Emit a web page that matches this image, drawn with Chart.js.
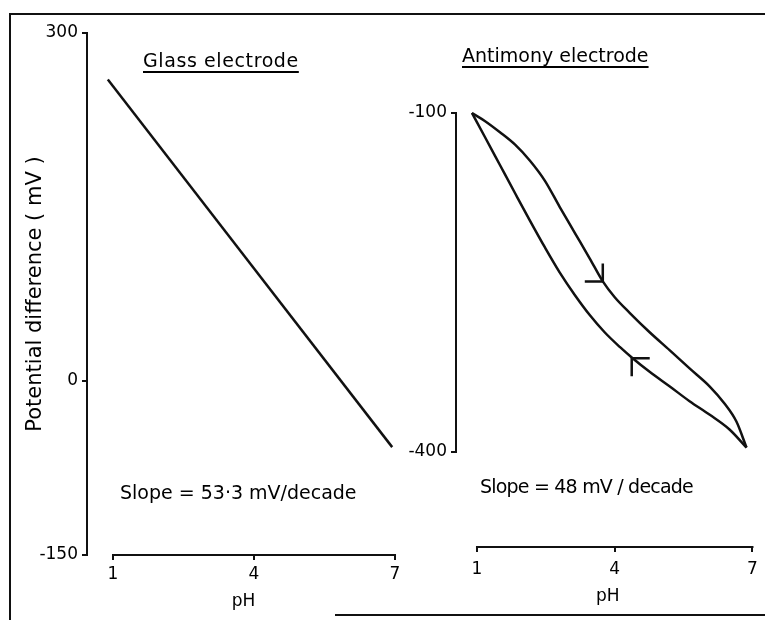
<!DOCTYPE html>
<html>
<head>
<meta charset="utf-8">
<title>Glass and antimony electrode response</title>
<script src="https://cdn.jsdelivr.net/npm/chart.js@4.4.1/dist/chart.umd.min.js"></script>
<style>
  html, body { margin: 0; padding: 0; background: #fff; }
  #page { position: relative; width: 765px; height: 620px; overflow: hidden; font-family: "DejaVu Sans", sans-serif; color: #000; }
  canvas { position: absolute; top: 0; }
  #glassChart { left: 0; }
  #antimonyChart { left: 395px; }
  .rule { position: absolute; background: #111; }
  .label { position: absolute; white-space: nowrap; font-size: 19px; line-height: 22px; }
  .heading { text-decoration: underline; text-decoration-thickness: 1.5px; text-underline-offset: 4px; }
</style>
</head>
<body>
<div id="page">
  <div class="rule" style="left:9px; top:13px; width:2px; height:607px;"></div>
  <div class="rule" style="left:9px; top:13px; width:756px; height:2px;"></div>
  <div class="rule" style="left:335px; top:614px; width:430px; height:2px;"></div>

  <canvas id="glassChart" width="405" height="620"></canvas>
  <canvas id="antimonyChart" width="370" height="620"></canvas>

  <div class="label heading" style="left:143px; top:49px; letter-spacing:0.6px;">Glass electrode</div>
  <div class="label heading" style="left:462px; top:44px;">Antimony electrode</div>
  <div class="label" style="left:120px; top:481px;">Slope = 53·3 mV/decade</div>
  <div class="label" style="left:480px; top:475px; letter-spacing:-0.8px;">Slope = 48 mV / decade</div>
</div>

<script>
/* ----------------------------------------------------------
   Data
   ---------------------------------------------------------- */
const phTicks = [1, 4, 7];
const glassTicks = [-150, 0, 300];
const antimonyTicks = [-400, -100];

// glass electrode: straight line
const glassPH = [0.89, 6.94];
const glassMV = [260, -57];

// antimony electrode: rising pH branch (upper curve)
const upPH = [0.89, 1.17, 1.50, 1.83, 2.15, 2.48, 2.80, 3.13, 3.46, 3.74, 4.00, 4.33, 4.76, 5.20, 5.63, 6.07, 6.39, 6.65, 6.87];
const upMV = [-100, -107, -117, -128, -142, -160, -183, -206, -229, -249, -263, -277, -294, -310, -326, -342, -357, -373, -396];

// antimony electrode: falling pH branch (lower curve)
const downPH = [0.89, 1.17, 1.50, 1.83, 2.15, 2.48, 2.80, 3.13, 3.46, 3.78, 4.11, 4.39, 4.76, 5.20, 5.63, 6.07, 6.50, 6.87];
const downMV = [-100, -121, -146, -171, -195, -219, -241, -261, -279, -294, -307, -317, -329, -342, -355, -367, -380, -396];

// direction marks on the loop
const arrowPH = [3.74, 4.37];
const arrowMV = [-249, -317];
const arrowDir = ['forward', 'back'];

const pts = (xs, ys) => xs.map((x, i) => ({ x, y: ys[i] }));

/* ----------------------------------------------------------
   Plugins
   ---------------------------------------------------------- */
// axis lines only between first and last tick
const rangeAxes = {
  id: 'rangeAxes',
  afterDraw(chart) {
    const { ctx } = chart;
    const x = chart.scales.x, y = chart.scales.y;
    ctx.save();
    ctx.strokeStyle = '#111';
    ctx.lineWidth = 2;
    ctx.lineCap = 'square';
    const xt = x.ticks.map(t => t.value);
    const yt = y.ticks.map(t => t.value);
    ctx.beginPath();
    ctx.moveTo(x.getPixelForValue(Math.min(...xt)), x.top);
    ctx.lineTo(x.getPixelForValue(Math.max(...xt)), x.top);
    ctx.moveTo(y.right, y.getPixelForValue(Math.max(...yt)));
    ctx.lineTo(y.right, y.getPixelForValue(Math.min(...yt)));
    ctx.stroke();
    ctx.restore();
  }
};

const loopArrows = {
  id: 'loopArrows',
  afterDatasetsDraw(chart) {
    const { ctx } = chart;
    const x = chart.scales.x, y = chart.scales.y;
    const arm = 18;
    ctx.save();
    ctx.strokeStyle = '#111';
    ctx.lineWidth = 2.5;
    arrowPH.forEach((ph, i) => {
      const px = x.getPixelForValue(ph), py = y.getPixelForValue(arrowMV[i]);
      const s = arrowDir[i] === 'forward' ? -1 : 1;
      ctx.beginPath();
      ctx.moveTo(px, py + s * arm);
      ctx.lineTo(px, py);
      ctx.lineTo(px + s * arm, py);
      ctx.stroke();
    });
    ctx.restore();
  }
};

/* ----------------------------------------------------------
   Shared options
   ---------------------------------------------------------- */
const FONT = { family: '"DejaVu Sans", sans-serif', size: 17 };
const TITLE_FONT = { family: '"DejaVu Sans", sans-serif', size: 21 };

function axisX(min, max, height, labelPad, titlePad) {
  return {
    type: 'linear', min, max,
    afterBuildTicks: s => { s.ticks = phTicks.map(v => ({ value: v })); },
    afterFit: s => { s.height = height; },
    border: { display: false },
    grid: { drawOnChartArea: false, drawTicks: true, tickLength: 5, color: '#111', lineWidth: 2 },
    ticks: { color: '#000', font: FONT, padding: labelPad, maxRotation: 0, autoSkip: false },
    title: { display: true, text: 'pH', color: '#000', font: FONT, padding: { top: 0, bottom: titlePad } },
  };
}

function axisY(min, max, ticks, width, title) {
  return {
    type: 'linear', min, max,
    afterBuildTicks: s => { s.ticks = ticks.map(v => ({ value: v })); },
    afterFit: s => { s.width = width; },
    border: { display: false },
    grid: { drawOnChartArea: false, drawTicks: true, tickLength: 5, color: '#111', lineWidth: 2 },
    ticks: { color: '#000', font: FONT, padding: 4 },
    title: title
      ? { display: true, text: title, color: '#000', font: TITLE_FONT, padding: { top: 23, bottom: 0 } }
      : { display: false },
  };
}

const lineStyle = {
  borderColor: '#111', borderWidth: 2.5, pointRadius: 0,
  fill: false, cubicInterpolationMode: 'monotone', clip: false,
};

const baseOptions = {
  responsive: false,
  devicePixelRatio: 1,
  animation: false,
  events: [],
  plugins: { legend: { display: false }, tooltip: { enabled: false } },
};

/* ----------------------------------------------------------
   Glass electrode
   ---------------------------------------------------------- */
new Chart(document.getElementById('glassChart'), {
  type: 'line',
  data: {
    datasets: [{ label: 'Glass electrode', data: pts(glassPH, glassMV), ...lineStyle }],
  },
  options: {
    ...baseOptions,
    layout: { padding: { top: 33, right: 5, left: 0, bottom: 0 } },
    scales: {
      x: axisX(0.447, 7.106, 65, 4, 8),
      y: axisY(-150, 300, glassTicks, 87, 'Potential difference ( mV )'),
    },
  },
  plugins: [rangeAxes],
});

/* ----------------------------------------------------------
   Antimony electrode
   ---------------------------------------------------------- */
new Chart(document.getElementById('antimonyChart'), {
  type: 'line',
  data: {
    datasets: [
      { label: 'Increasing pH', data: pts(upPH, upMV), ...lineStyle },
      { label: 'Decreasing pH', data: pts(downPH, downMV), ...lineStyle },
    ],
  },
  options: {
    ...baseOptions,
    layout: { padding: { top: 113, right: 5, left: 0, bottom: 0 } },
    scales: {
      x: axisX(0.543, 7.15, 73, 7, 13),
      y: axisY(-484, -100, antimonyTicks, 61, null),
    },
  },
  plugins: [rangeAxes, loopArrows],
});
</script>
</body>
</html>
